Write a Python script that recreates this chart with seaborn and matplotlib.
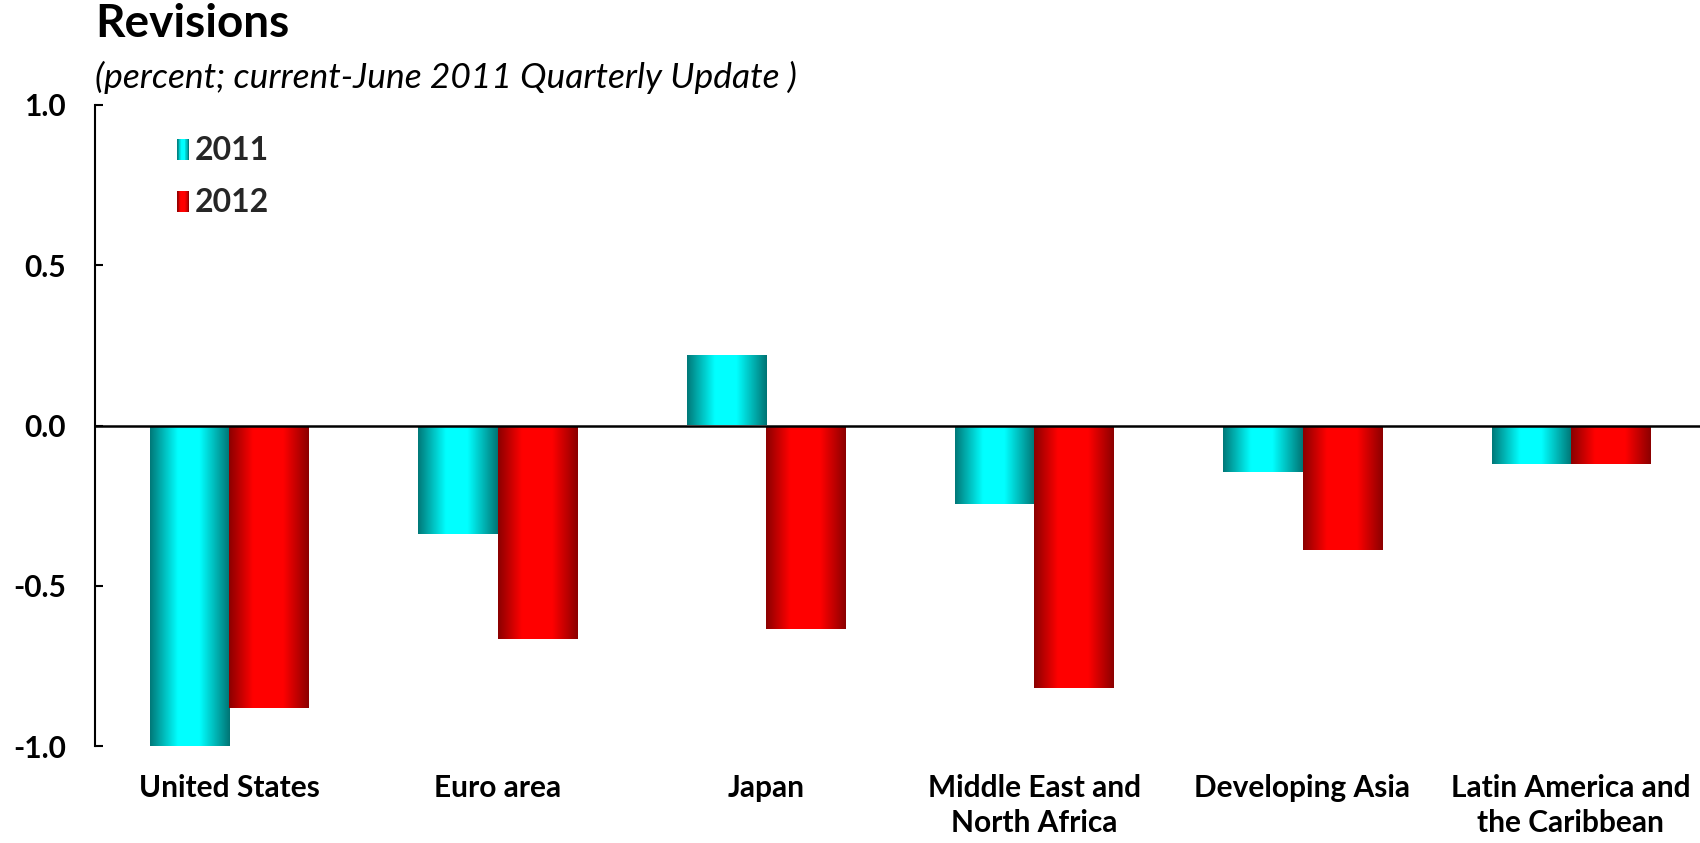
import matplotlib
matplotlib.use("Agg")
import matplotlib.pyplot as plt
import numpy as np
import pandas as pd
import seaborn as sns
from matplotlib.colors import LinearSegmentedColormap
from matplotlib.legend_handler import HandlerBase
from matplotlib.patches import Patch, Rectangle
from matplotlib.ticker import FormatStrFormatter

# ── Data ──────────────────────────────────────────────────────────────────────
REGIONS = [
    "United States",
    "Euro area",
    "Japan",
    "Middle East and\nNorth Africa",
    "Developing Asia",
    "Latin America and\nthe Caribbean",
]
REV_2011 = [-1.0, -0.34, 0.22, -0.245, -0.145, -0.12]
REV_2012 = [-0.88, -0.665, -0.635, -0.82, -0.39, -0.12]
YEARS = ["2011", "2012"]
Y_TICKS = [-1.0, -0.5, 0.0, 0.5, 1.0]

TITLE = "Revisions"
SUBTITLE = "(percent; current-June 2011 Quarterly Update )"

# ── Style ─────────────────────────────────────────────────────────────────────
PALETTE = {"2011": "#00ffff", "2012": "#ff0000"}
CMAPS = {
    "2011": LinearSegmentedColormap.from_list(
        "teal", [(0, "#007878"), (0.35, "#00ffff"), (0.62, "#00ffff"), (1, "#007474")]),
    "2012": LinearSegmentedColormap.from_list(
        "red", [(0, "#8b0000"), (0.3, "#ff0000"), (0.68, "#ff0000"), (1, "#8b0000")]),
}

sns.set_theme(style="white")
plt.rcParams["font.family"] = ["Lato", "DejaVu Sans"]
plt.rcParams["axes.unicode_minus"] = False

df = pd.DataFrame({
    "region": REGIONS * 2,
    "value": REV_2011 + REV_2012,
    "year": [YEARS[0]] * len(REGIONS) + [YEARS[1]] * len(REGIONS),
})


class GradientHandler(HandlerBase):
    """Legend swatch drawn as a horizontal gradient."""

    def __init__(self, cmap, n=16):
        super().__init__()
        self.cmap = cmap
        self.n = n

    def create_artists(self, legend, orig_handle, xdescent, ydescent,
                       width, height, fontsize, trans):
        step = width / self.n
        rects = []
        for i in range(self.n):
            rects.append(Rectangle(
                (-xdescent + i * step, -ydescent), step * 1.05, height,
                facecolor=self.cmap((i + 0.5) / self.n), edgecolor="none",
                transform=trans))
        return rects


fig = plt.figure(figsize=(17, 8.43), dpi=100)
ax = fig.add_axes([95 / 1700, 97 / 843, 1610 / 1700, 641 / 843])

sns.barplot(data=df, x="region", y="value", hue="year", hue_order=YEARS,
            palette=PALETTE, width=0.59, gap=0, linewidth=0, legend=False,
            errorbar=None, ax=ax)

# replace flat fills by a cylinder-like gradient clipped to each bar
grad = np.linspace(0, 1, 256).reshape(1, -1)
for container, year in zip(ax.containers, YEARS):
    for bar in container:
        x0, y0 = bar.get_x(), bar.get_y()
        w, h = bar.get_width(), bar.get_height()
        img = ax.imshow(grad, extent=[x0, x0 + w, y0, y0 + h], aspect="auto",
                        cmap=CMAPS[year], interpolation="bilinear", zorder=2)
        img.set_clip_path(bar)
        bar.set_facecolor("none")

ax.set_xlim(-0.5, len(REGIONS) - 0.5)
ax.set_ylim(-1.0, 1.0)
ax.axhline(0, color="black", linewidth=1.8, zorder=3)

ax.set_yticks(Y_TICKS)
ax.yaxis.set_major_formatter(FormatStrFormatter("%.1f"))
ax.set_xlabel("")
ax.set_ylabel("")
sns.despine(ax=ax, bottom=True)
ax.spines["left"].set_linewidth(1.5)
ax.spines["left"].set_color("black")
ax.tick_params(axis="y", direction="in", length=6, width=1.5, color="black",
               left=True, pad=21, labelsize=21.5)
ax.tick_params(axis="x", length=0, pad=20, labelsize=21.5)
for lab in ax.get_xticklabels() + ax.get_yticklabels():
    lab.set_fontweight("bold")
    lab.set_color("black")
for lab in ax.get_xticklabels():
    lab.set_linespacing(1.3)

handles = [Patch(label=y) for y in YEARS]
ax.legend(handles=handles, labels=YEARS,
          handler_map={h: GradientHandler(CMAPS[y]) for h, y in zip(handles, YEARS)},
          loc="upper left", bbox_to_anchor=(0.051, 0.951), frameon=False,
          borderpad=0, borderaxespad=0,
          prop={"weight": "bold", "size": 23}, handlelength=0.38,
          handleheight=0.62, handletextpad=0.18, labelspacing=0.72)

fig.text(95 / 1700, 1 - 24 / 843, TITLE, fontsize=33, fontweight="bold",
         color="black", va="center", ha="left")
fig.text(95 / 1700, 1 - 77 / 843, SUBTITLE, fontsize=25.5, style="italic",
         color="black", va="center", ha="left")

fig.savefig("out.png", dpi=100)
